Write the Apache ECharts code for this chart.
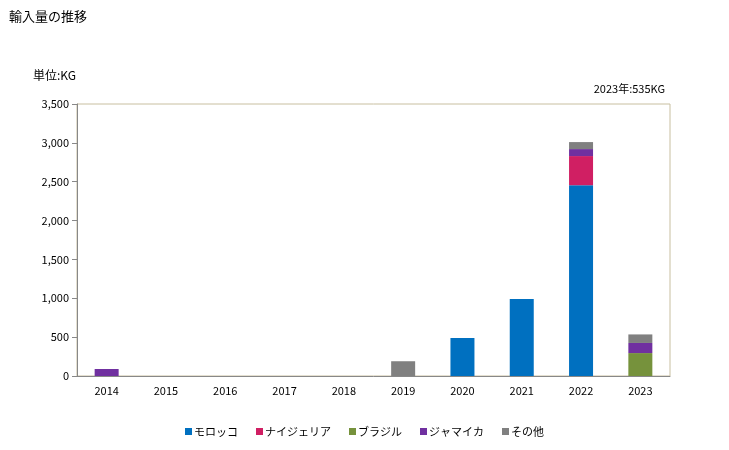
<!DOCTYPE html>
<html><head><meta charset="utf-8">
<script src="https://cdn.jsdelivr.net/npm/echarts@6/dist/echarts.min.js"></script>
<style>html,body{margin:0;padding:0;background:#fff}#c{width:729px;height:450px}</style>
</head><body><div id="c"></div>
<script>
var categories = ['2014','2015','2016','2017','2018','2019','2020','2021','2022','2023'];
var morocco  = [0,0,0,0,0,0,490,990,2455,0];
var nigeria  = [0,0,0,0,0,0,0,0,375,0];
var brazil   = [0,0,0,0,0,0,0,0,0,295];
var jamaica  = [90,0,0,0,0,0,0,0,90,130];
var others   = [0,0,0,0,0,190,0,0,90,110];
var yTicks = [0,500,1000,1500,2000,2500,3000,3500];
var seriesNames = ['モロッコ','ナイジェリア','ブラジル','ジャマイカ','その他'];
var colors = ['#0070C0','#D01F63','#76923C','#7030A0','#808080'];
var font = '"Noto Sans CJK JP", sans-serif';
var chart = echarts.init(document.getElementById('c'));
var data = [morocco, nigeria, brazil, jamaica, others];
chart.setOption({
  animation:false,
  textStyle:{fontFamily:font},
  title:[
    {text:'輸入量の推移', left:4, top:5, textStyle:{fontSize:13, fontWeight:'normal', color:'#000', fontFamily:font}},
    {text:'単位:KG', left:28, top:64, textStyle:{fontSize:12, fontWeight:'normal', color:'#000', fontFamily:font}},
    {text:'2023年:535KG', right:59, top:78, textStyle:{fontSize:11, fontWeight:'normal', color:'#000', fontFamily:font}}
  ],
  legend:{bottom:8, left:'center', itemWidth:7, itemHeight:7, itemGap:18, icon:'rect',
    textStyle:{fontSize:11, color:'#000', fontFamily:font, padding:[0,0,0,-3]}, data:seriesNames},
  grid:{left:77, right:59, top:104, bottom:74, show:true, borderColor:'#C8BFA0', borderWidth:1},
  xAxis:{type:'category', data:categories, axisTick:{show:false},
    axisLine:{lineStyle:{color:'#888'}}, axisLabel:{color:'#000', fontSize:11, margin:9}},
  yAxis:{type:'value', min:0, max:3500, interval:500,
    axisLine:{show:true, lineStyle:{color:'#888'}}, axisTick:{show:true, length:5, lineStyle:{color:'#888'}},
    splitLine:{show:false},
    axisLabel:{color:'#000', fontSize:11, margin:8, formatter:function(v){return v.toLocaleString('en-US');}}},
  series: seriesNames.map(function(n,i){
    return {name:n, type:'bar', stack:'a', barWidth:24, itemStyle:{color:colors[i]}, data:data[i]};
  })
});
</script></body></html>
